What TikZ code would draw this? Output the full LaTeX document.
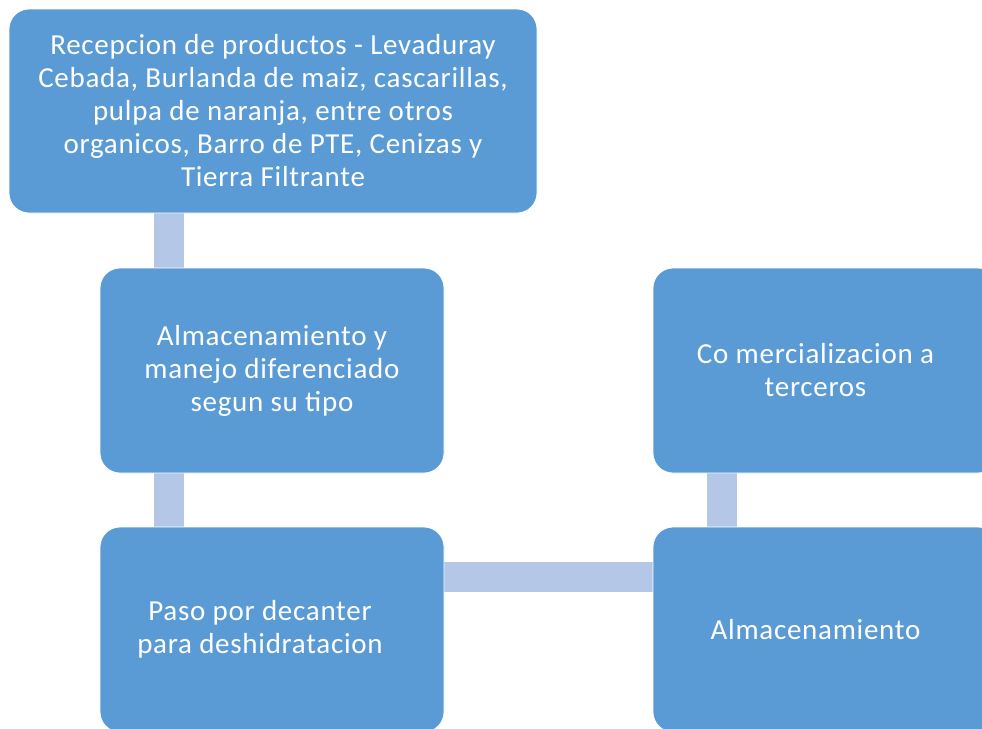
\documentclass[tikz,border=0pt]{standalone}
\usepackage{fontspec}
\setmainfont{Carlito}[LetterSpace=2.5]
\usetikzlibrary{backgrounds}
\definecolor{boxblue}{HTML}{5B9BD5}
\definecolor{connblue}{HTML}{B4C7E7}
\begin{document}
\begin{tikzpicture}[x=1pt,y=-1pt,
  box/.style={draw=white, line width=0.8pt, fill=boxblue, rounded corners=20pt,
    text=white, align=center, inner sep=0pt,
    font=\fontsize{29}{33}\selectfont},
  conn/.style={draw=connblue, line width=30pt}]
\useasboundingbox (0,0) rectangle (982,728);
\clip (0,0) rectangle (982,728);
\node[box, minimum width=528pt, minimum height=204pt] (b1) at (273,111)
  {Recepcion de productos - Levaduray\\Cebada, Burlanda de maiz, cascarillas,\\pulpa de naranja, entre otros\\organicos, Barro de PTE, Cenizas y\\Tierra Filtrante};
\node[box, minimum width=344pt, minimum height=205pt] (b2) at (272,370.5)
  {Almacenamiento y\\manejo diferenciado\\segun su tipo};
\node[box, minimum width=344pt, minimum height=205pt] (b3) at (272,629.5)
  {\hspace*{-24pt}Paso por decanter\\\hspace*{-24pt}para deshidratacion};
\node[box, minimum width=345pt, minimum height=205pt] (b4) at (825.5,370.5)
  {\hspace*{-20pt}Co mercializacion a\\\hspace*{-20pt}terceros};
\node[box, minimum width=345pt, minimum height=205pt] (b5) at (825.5,629.5)
  {\hspace*{-20pt}Almacenamiento};
\begin{scope}[on background layer]
\draw[conn] ([xshift=69pt]b2.north west) -- ([xshift=69pt]b2.north west |- b1.south);
\draw[conn] ([xshift=69pt]b3.north west) -- ([xshift=69pt]b3.north west |- b2.south);
\draw[conn] ([yshift=-50.5pt]b3.north east) -- ([yshift=-50.5pt]b3.north east -| b5.west);
\draw[conn] ([xshift=69pt]b5.north west) -- ([xshift=69pt]b5.north west |- b4.south);
\end{scope}
\end{tikzpicture}
\end{document}
